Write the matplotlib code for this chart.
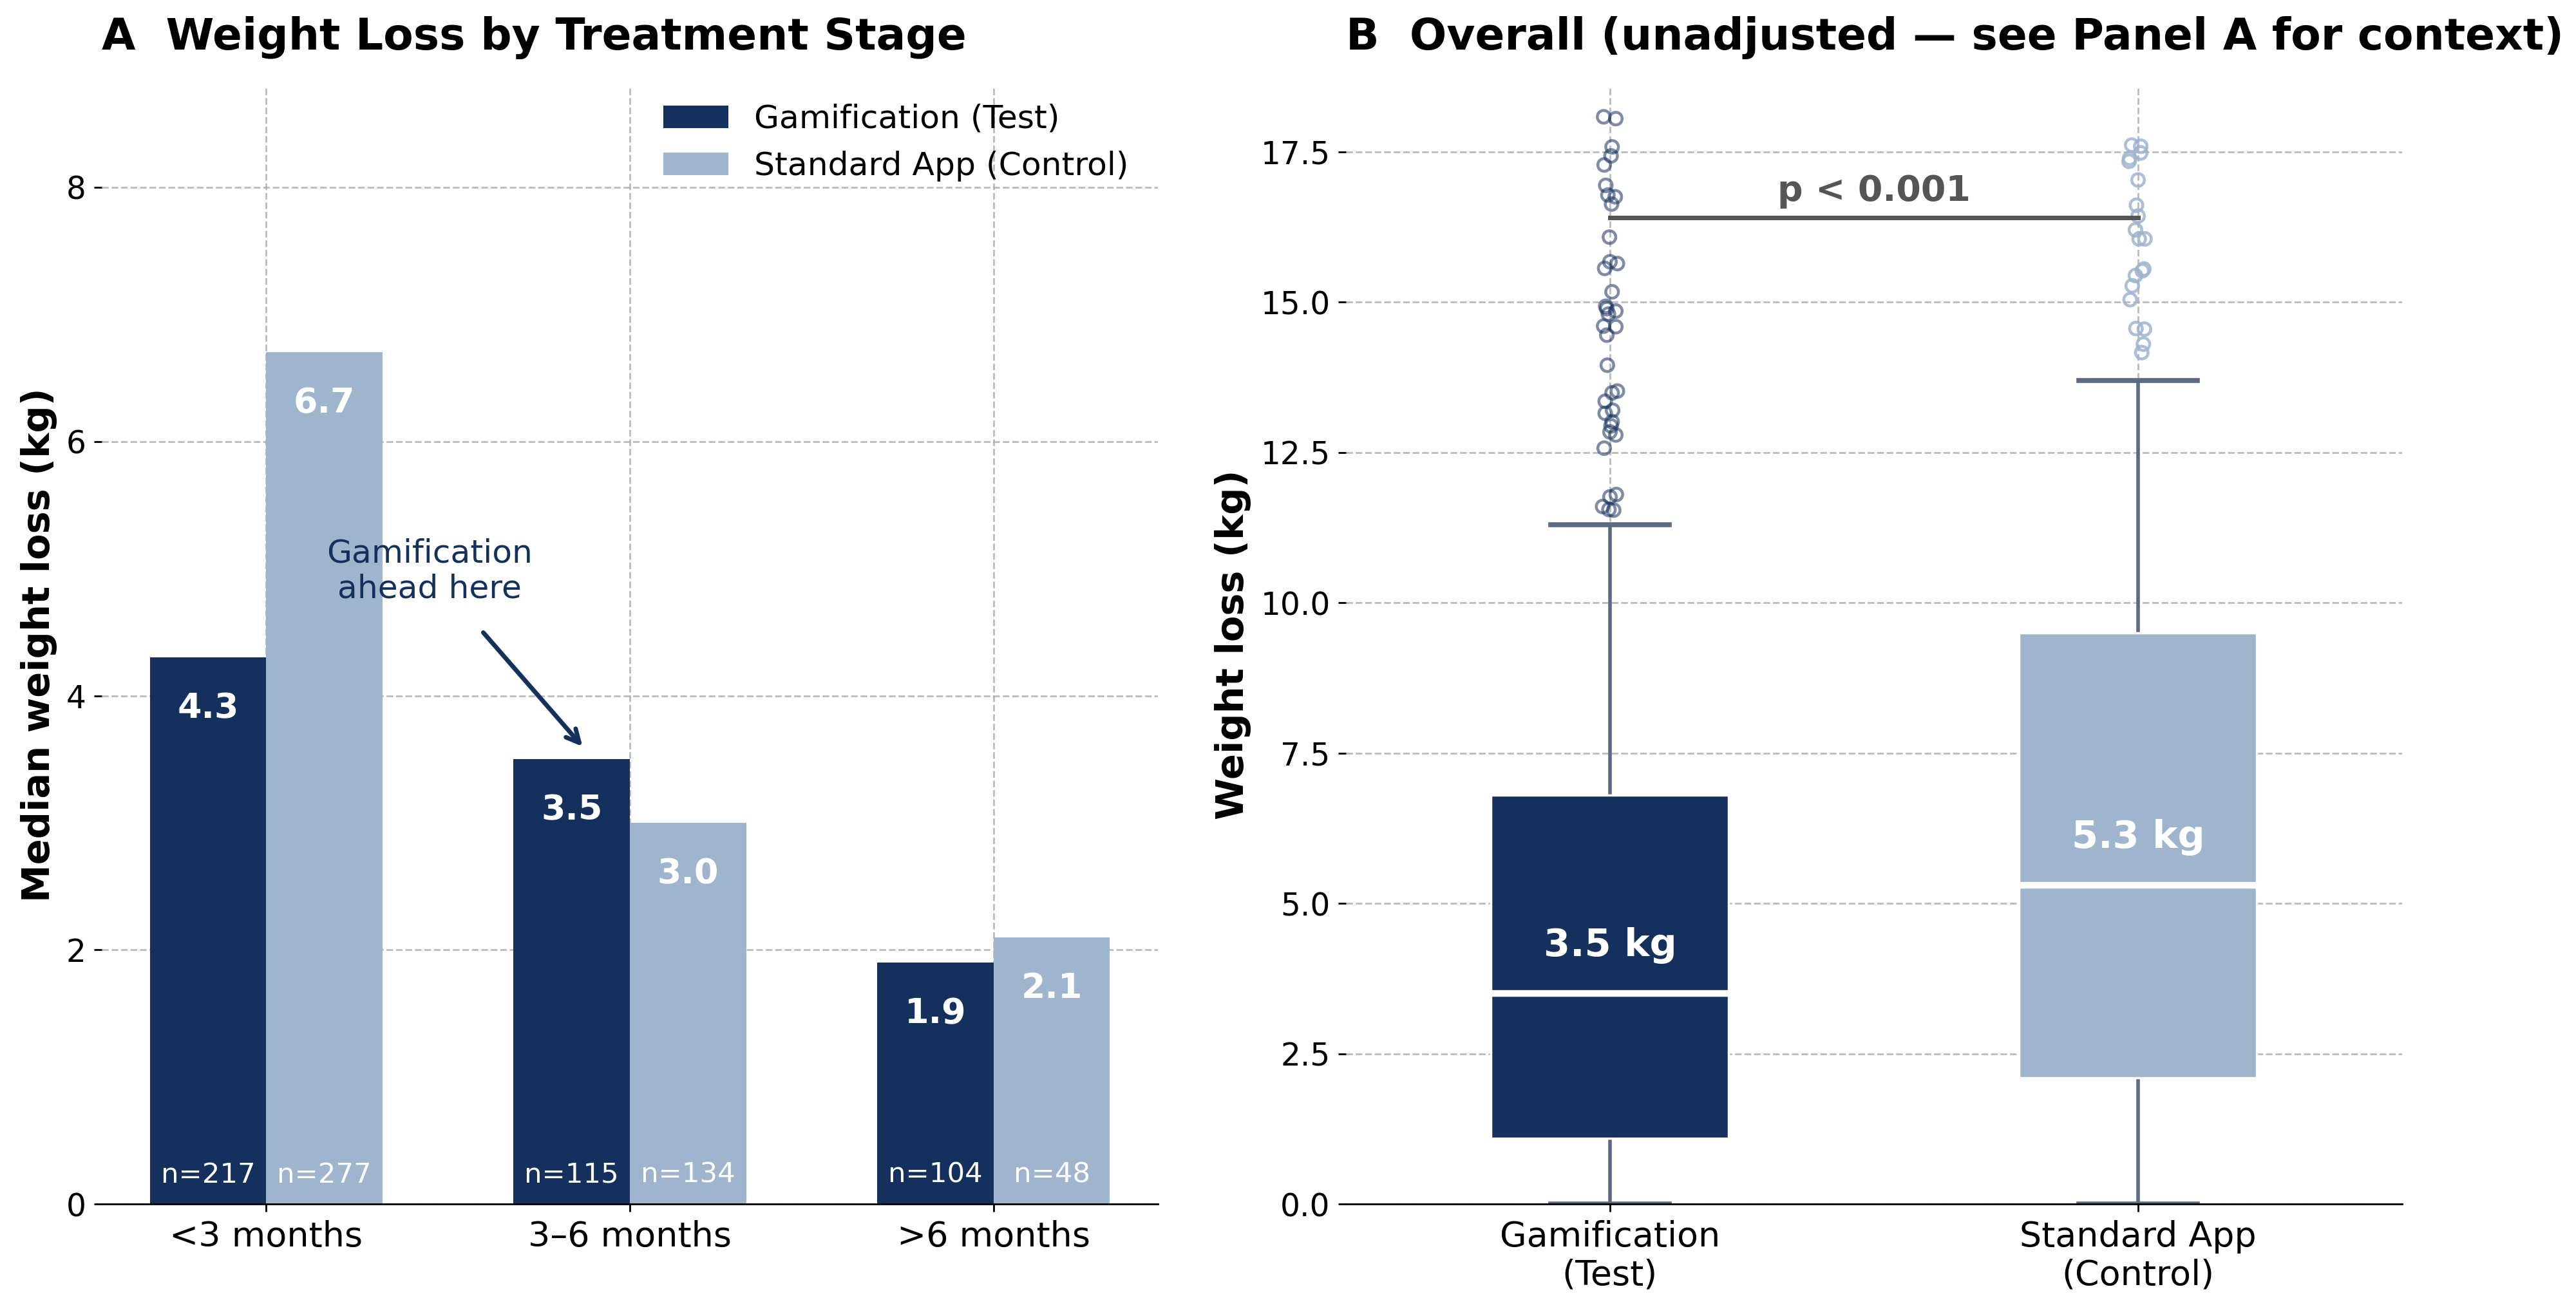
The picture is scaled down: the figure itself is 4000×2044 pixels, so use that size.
import matplotlib.pyplot as plt
import numpy as np

# ---- data ----
stages = ['<3 months', '3–6 months', '>6 months']
gam_median = [4.3, 3.5, 1.9]
ctl_median = [6.7, 3.0, 2.1]
gam_n = [217, 115, 104]
ctl_n = [277, 134, 48]

groups = ['Gamification\n(Test)', 'Standard App\n(Control)']
# box stats: q1, median, q3, whisker low, whisker high
gam_box = [1.1, 3.5, 6.8, 0.0, 11.3]
ctl_box = [2.1, 5.3, 9.5, 0.0, 13.7]

gam_outliers = [18.08, 18.05, 17.58, 17.43, 17.28, 16.94, 16.78, 16.75, 16.63, 16.08,
                15.67, 15.64, 15.56, 15.17, 14.93, 14.89, 14.85, 14.80, 14.60, 14.59,
                14.45, 13.95, 13.52, 13.49, 13.35, 13.20, 13.15, 13.01, 12.94, 12.84,
                12.79, 12.57, 11.80, 11.76, 11.60, 11.55, 11.54]
gam_jitter = [-0.012, 0.011, 0.004, 0.002, -0.011, -0.008, -0.004, 0.010, 0.003, -0.001,
              0.0, 0.014, -0.010, 0.004, -0.008, -0.006, 0.011, -0.003, -0.012, 0.011,
              -0.006, -0.005, 0.014, 0.004, -0.009, 0.005, -0.009, 0.004, 0.002, 0.0,
              0.011, -0.011, 0.012, 0.0, -0.014, -0.002, 0.007]
ctl_outliers = [17.61, 17.59, 17.48, 17.39, 17.34, 17.03, 16.61, 16.43, 16.20, 16.05,
                16.05, 15.55, 15.52, 15.44, 15.27, 15.04, 14.56, 14.55, 14.30, 14.16]
ctl_jitter = [-0.012, 0.005, 0.005, -0.016, -0.017, 0.0, -0.003, 0.0, -0.005, 0.002,
              0.013, 0.011, 0.008, -0.005, -0.011, -0.015, -0.004, 0.012, 0.010, 0.007]

navy = '#14305C'
light = '#9FB4CD'
whisk = '#5B6B82'

plt.rcParams['font.family'] = ['DejaVu Sans']

fig, (ax1, ax2) = plt.subplots(1, 2, figsize=(16, 8.176), dpi=250)
fig.subplots_adjust(left=0.0395, right=0.9325, top=0.935, bottom=0.085, wspace=0.178)

# ---- Panel A ----
x = np.arange(len(stages))
w = 0.32
ax1.bar(x - w / 2, gam_median, w, color=navy, label='Gamification (Test)', zorder=2)
ax1.bar(x + w / 2, ctl_median, w, color=light, label='Standard App (Control)', zorder=2)

for i in range(len(stages)):
    ax1.text(x[i] - w / 2, gam_median[i] - 0.4, f'{gam_median[i]:.1f}', ha='center', va='center',
             color='white', fontsize=15.5, fontweight='bold', zorder=3)
    ax1.text(x[i] + w / 2, ctl_median[i] - 0.4, f'{ctl_median[i]:.1f}', ha='center', va='center',
             color='white', fontsize=15.5, fontweight='bold', zorder=3)
    ax1.text(x[i] - w / 2, 0.23, f'n={gam_n[i]}', ha='center', va='center',
             color='white', fontsize=12.5, zorder=3)
    ax1.text(x[i] + w / 2, 0.23, f'n={ctl_n[i]}', ha='center', va='center',
             color='white', fontsize=12.5, zorder=3)

ax1.annotate('Gamification\nahead here', xy=(x[1] - w / 2 + 0.03, gam_median[1] + 0.1),
             xytext=(0.45, 4.98), ha='center', va='center', fontsize=14.5, color=navy,
             arrowprops=dict(arrowstyle='->', color=navy, lw=2, shrinkA=14, shrinkB=0))

ax1.set_xticks(x)
ax1.set_xticklabels(stages, fontsize=15.5)
ax1.set_ylim(0, 8.8)
ax1.set_yticks([0, 2, 4, 6, 8])
ax1.tick_params(axis='y', labelsize=14)
ax1.set_ylabel('Median weight loss (kg)', fontsize=17, fontweight='bold')
ax1.set_title('A  Weight Loss by Treatment Stage', loc='left', fontsize=19.5, fontweight='bold', pad=16)
ax1.grid(True, linestyle='--', color='#aaaaaa', alpha=0.8, zorder=0)
ax1.set_axisbelow(True)
for s in ['top', 'right', 'left']:
    ax1.spines[s].set_visible(False)
ax1.legend(loc='upper right', frameon=False, fontsize=14.5, bbox_to_anchor=(1.0, 1.01))

# ---- Panel B ----
stats = []
for box, lab in [(gam_box, groups[0]), (ctl_box, groups[1])]:
    stats.append(dict(q1=box[0], med=box[1], q3=box[2], whislo=box[3], whishi=box[4],
                      fliers=[], label=lab))
bp = ax2.bxp(stats, positions=[0, 1], widths=0.45, patch_artist=True, showfliers=False,
             boxprops=dict(edgecolor='white', linewidth=1),
             medianprops=dict(color='white', linewidth=3),
             whiskerprops=dict(color=whisk, linewidth=1.6),
             capprops=dict(color=whisk, linewidth=2.2))
for patch, c in zip(bp['boxes'], [navy, light]):
    patch.set_facecolor(c)
    patch.set_zorder(3)
for m in bp['medians']:
    m.set_zorder(4)

ax2.scatter(np.array(gam_jitter), gam_outliers, s=32, facecolors='none', edgecolors=navy,
            linewidths=1.3, alpha=0.55, zorder=4)
ax2.scatter(1 + np.array(ctl_jitter), ctl_outliers, s=32, facecolors='none', edgecolors=light,
            linewidths=1.3, alpha=0.85, zorder=4)

for i, box in enumerate([gam_box, ctl_box]):
    ax2.text(i, box[1] + 0.8, f'{box[1]:.1f} kg', ha='center', va='center', color='white',
             fontsize=17, fontweight='bold', zorder=5)

ax2.plot([0, 1], [16.4, 16.4], color='#555555', lw=2, zorder=4)
ax2.text(0.5, 16.55, 'p < 0.001', ha='center', va='bottom', fontsize=16, fontweight='bold',
         color='#555555')

ax2.set_xlim(-0.5, 1.5)
ax2.set_ylim(0, 18.6)
ax2.set_yticks(np.arange(0, 17.6, 2.5))
ax2.set_yticklabels([f'{v:.1f}' for v in np.arange(0, 17.6, 2.5)])
ax2.tick_params(axis='y', labelsize=14)
ax2.tick_params(axis='x', labelsize=15.5)
ax2.set_ylabel('Weight loss (kg)', fontsize=17, fontweight='bold')
ax2.set_title('B  Overall (unadjusted — see Panel A for context)', loc='left', fontsize=19.5,
              fontweight='bold', pad=16)
ax2.grid(True, linestyle='--', color='#aaaaaa', alpha=0.8, zorder=0)
ax2.set_axisbelow(True)
for s in ['top', 'right', 'left']:
    ax2.spines[s].set_visible(False)

plt.savefig('out.png', dpi=250)
